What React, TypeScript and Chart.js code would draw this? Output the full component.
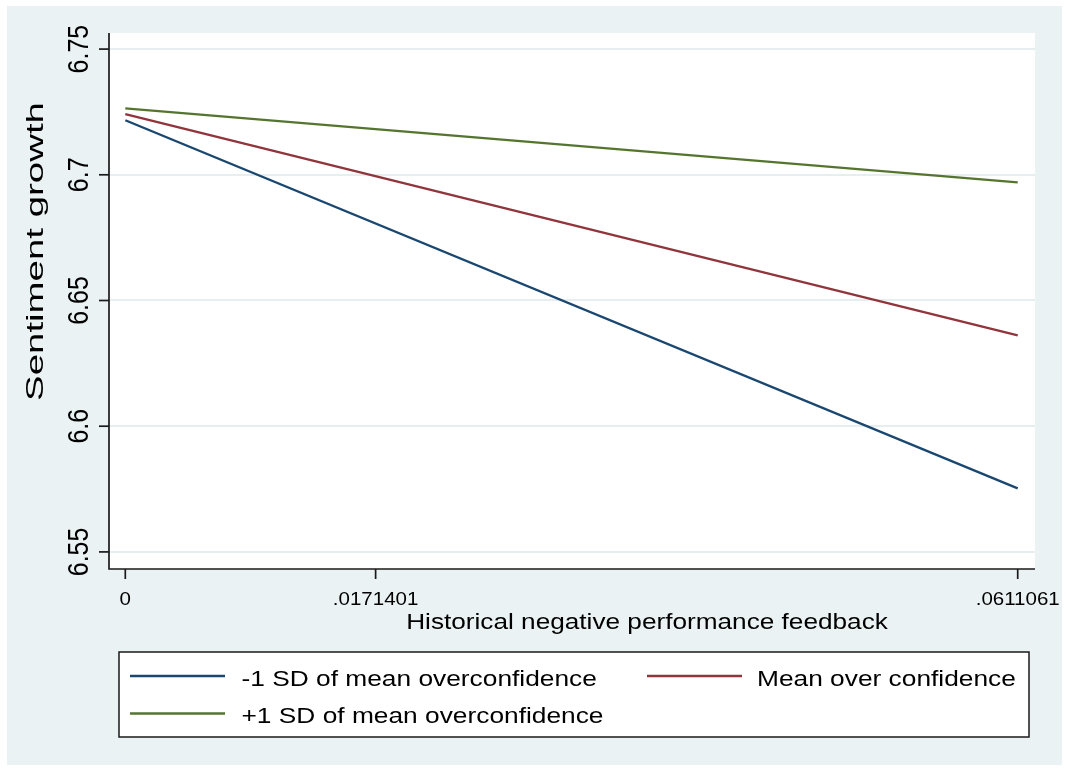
import React, { useEffect, useRef } from "react";
import { Chart, registerables } from "chart.js";

Chart.register(...registerables);

// ---- data ----
const xValues = [0, 0.0611061];
const lowOC = [6.7217, 6.5753];
const meanOC = [6.7241, 6.6361];
const highOC = [6.7264, 6.697];
const xTickValues = [0, 0.0171401, 0.0611061];
const xTickLabels = ["0", ".0171401", ".0611061"];
const yTickValues = [6.55, 6.6, 6.65, 6.7, 6.75];
const yTickLabels = ["6.55", "6.6", "6.65", "6.7", "6.75"];
const seriesNames = [
  "-1 SD of mean overconfidence",
  "Mean over confidence",
  "+1 SD of mean overconfidence",
];
const seriesColors = ["#1a476f", "#90353b", "#55752f"];
const xTitle = "Historical negative performance feedback";
const yTitle = "Sentiment growth";

const FONT = '"Liberation Sans", Arial, Helvetica, sans-serif';

function drawText(
  ctx: CanvasRenderingContext2D,
  text: string,
  x: number,
  y: number,
  size: number,
  sx: number,
  align: CanvasTextAlign,
  rotated: boolean,
  along: number = 1
) {
  ctx.save();
  ctx.translate(x, y);
  if (rotated) {
    ctx.rotate(-Math.PI / 2);
    ctx.scale(along, sx);
  } else {
    ctx.scale(sx, 1);
  }
  ctx.font = `${size}px ${FONT}`;
  ctx.fillStyle = "#000";
  ctx.textAlign = align;
  ctx.textBaseline = "alphabetic";
  ctx.fillText(text, 0, 0);
  ctx.restore();
}

const stataPlugin = {
  id: "stataDecor",
  beforeDraw(chart: any) {
    const ctx = chart.ctx as CanvasRenderingContext2D;
    const a = chart.chartArea;
    ctx.save();
    ctx.fillStyle = "#ffffff";
    ctx.fillRect(0, 0, chart.width, chart.height);
    ctx.fillStyle = "#eaf2f3";
    ctx.fillRect(7, 6, 1055, 759);
    ctx.fillStyle = "#ffffff";
    ctx.fillRect(a.left, a.top, a.right - a.left, a.bottom - a.top);
    ctx.restore();
  },
  afterDraw(chart: any) {
    const ctx = chart.ctx as CanvasRenderingContext2D;
    const a = chart.chartArea;
    const xs = chart.scales.x;
    const ys = chart.scales.y;
    ctx.save();
    ctx.strokeStyle = "#1a1a1a";
    ctx.lineWidth = 1.7;
    // axes
    ctx.beginPath();
    ctx.moveTo(a.left, a.top);
    ctx.lineTo(a.left, a.bottom);
    ctx.lineTo(a.right, a.bottom);
    ctx.stroke();
    // y ticks
    yTickValues.forEach((v, i) => {
      const py = ys.getPixelForValue(v);
      ctx.beginPath();
      ctx.moveTo(a.left - 10, py);
      ctx.lineTo(a.left, py);
      ctx.stroke();
      drawText(ctx, yTickLabels[i], 88, py, 25, 1.17, "center", true);
    });
    // x ticks
    xTickValues.forEach((v, i) => {
      const px = xs.getPixelForValue(v);
      ctx.beginPath();
      ctx.moveTo(px, a.bottom);
      ctx.lineTo(px, a.bottom + 10);
      ctx.stroke();
      drawText(ctx, xTickLabels[i], px, 604.5, 18, 1.14, "center", false);
    });
    // titles
    drawText(ctx, xTitle, 647, 628.5, 22, 1.19, "center", false);
    drawText(ctx, yTitle, 42.5, 251.5, 24, 1.0, "center", true, 1.6);

    // legend
    const lx = 119, ly = 652, lw = 910, lh = 85;
    ctx.fillStyle = "#ffffff";
    ctx.fillRect(lx, ly, lw, lh);
    ctx.strokeStyle = "#1a1a1a";
    ctx.lineWidth = 1.5;
    ctx.strokeRect(lx, ly, lw, lh);
    const entries = [
      { lineX: 130, textX: 241.5, lineY: 676, baseY: 686 },
      { lineX: 647, textX: 757, lineY: 676, baseY: 686 },
      { lineX: 130, textX: 241.5, lineY: 713.5, baseY: 723 },
    ];
    entries.forEach((e, i) => {
      ctx.strokeStyle = seriesColors[i];
      ctx.lineWidth = 2.4;
      ctx.beginPath();
      ctx.moveTo(e.lineX, e.lineY);
      ctx.lineTo(e.lineX + 95, e.lineY);
      ctx.stroke();
      drawText(ctx, seriesNames[i], e.textX, e.baseY, 22.3, 1.18, "left", false);
    });
    ctx.restore();
  },
};

export default function App() {
  const canvasRef = useRef<HTMLCanvasElement | null>(null);

  useEffect(() => {
    document.body.style.margin = "0";
    const canvas = canvasRef.current;
    if (!canvas) return;
    const seriesData = [lowOC, meanOC, highOC];
    const chart = new Chart(canvas, {
      type: "line",
      data: {
        datasets: seriesData.map((vals, i) => ({
          label: seriesNames[i],
          data: vals.map((v, j) => ({ x: xValues[j], y: v })),
          borderColor: seriesColors[i],
          backgroundColor: seriesColors[i],
          borderWidth: 2.4,
          pointRadius: 0,
          tension: 0,
          fill: false,
        })),
      },
      options: {
        responsive: false,
        animation: false,
        devicePixelRatio: 1,
        layout: { padding: { left: 0, top: 33, right: 33, bottom: 0 } },
        plugins: {
          legend: { display: false },
          tooltip: { enabled: false },
          title: { display: false },
        },
        scales: {
          x: {
            type: "linear",
            min: -0.001116,
            max: 0.06229,
            grid: { display: false },
            border: { display: false },
            ticks: { display: false },
            afterBuildTicks: (s: any) => {
              s.ticks = xTickValues.map((v) => ({ value: v }));
            },
            afterFit: (s: any) => {
              s.height = 201;
            },
          },
          y: {
            type: "linear",
            min: 6.5432,
            max: 6.7564,
            grid: { color: "#e6eef0", lineWidth: 2, drawTicks: false },
            border: { display: false },
            ticks: { display: false },
            afterBuildTicks: (s: any) => {
              s.ticks = yTickValues.map((v) => ({ value: v }));
            },
            afterFit: (s: any) => {
              s.width = 109;
            },
          },
        },
      },
      plugins: [stataPlugin],
    });
    return () => chart.destroy();
  }, []);

  return (
    <div style={{ position: "fixed", left: 0, top: 0, width: 1068, height: 770 }}>
      <canvas ref={canvasRef} width={1068} height={770} />
    </div>
  );
}
